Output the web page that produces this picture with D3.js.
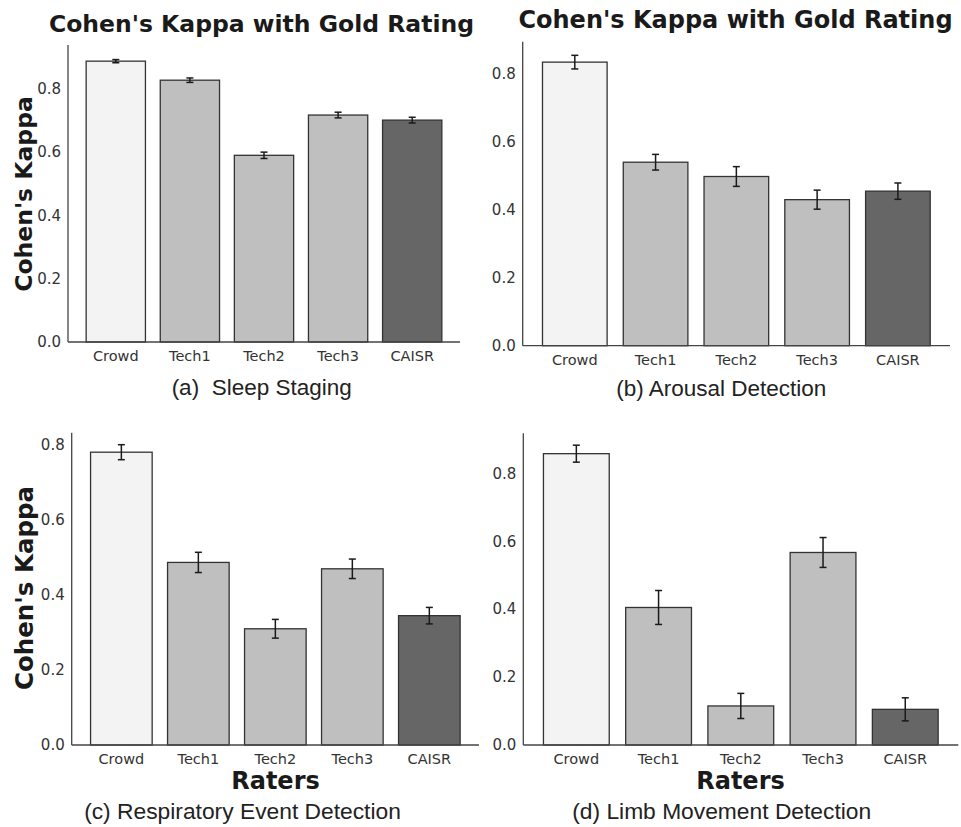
<!DOCTYPE html>
<html>
<head>
<meta charset="utf-8">
<script src="https://cdn.jsdelivr.net/npm/d3@7"></script>
<style>
  html, body { margin: 0; padding: 0; background: #fff; }
  svg { display: block; }
</style>
</head>
<body>
<svg id="chart" width="961" height="827"></svg>
<script>
// Raters compared against the gold rating
const raters = ["Crowd", "Tech1", "Tech2", "Tech3", "CAISR"];
const barFills = ["#f3f3f3", "#bfbfbf", "#bfbfbf", "#bfbfbf", "#666666"];

// Cohen's kappa per task (mean) and half-width of the error bar
const sleepKappa = [0.886, 0.826, 0.589, 0.716, 0.700];
const sleepErr = [0.005, 0.007, 0.010, 0.009, 0.009];

const arousalKappa = [0.833, 0.539, 0.497, 0.429, 0.454];
const arousalErr = [0.020, 0.023, 0.029, 0.028, 0.024];

const respKappa = [0.781, 0.487, 0.310, 0.470, 0.345];
const respErr = [0.020, 0.027, 0.025, 0.026, 0.022];

const limbKappa = [0.858, 0.405, 0.115, 0.567, 0.105];
const limbErr = [0.025, 0.050, 0.037, 0.044, 0.034];

// Upper limit of each value axis and its tick values
const axisMax = [0.937, 0.893, 0.833, 0.918];
const yTicks = [0.0, 0.2, 0.4, 0.6, 0.8];

const captions = [
  "(a)\u00a0\u00a0Sleep Staging",
  "(b) Arousal Detection",
  "(c) Respiratory Event Detection",
  "(d) Limb Movement Detection"
];
const titleText = "Cohen's Kappa with Gold Rating";
const yLabelText = "Cohen's Kappa";
const xLabelText = "Raters";

// Plot-area frame for each panel
const panels = [
  { values: sleepKappa, errs: sleepErr, left: 68, right: 460, top: 45, bottom: 342,
    title: { x: 261.5, y: 31.5, size: 23.5 }, ylab: { x: 32, y: 194, size: 23.5 },
    caption: { x: 261.7, y: 395, size: 22.5 }, tickY: 360.5 },
  { values: arousalKappa, errs: arousalErr, left: 522.7, right: 950, top: 41.7, bottom: 345.7,
    title: { x: 735.5, y: 28.3, size: 24 }, ylab: null,
    caption: { x: 721.3, y: 395.5, size: 22.5 }, tickY: 364.5 },
  { values: respKappa, errs: respErr, left: 71.7, right: 479, top: 432.7, bottom: 745,
    title: null, ylab: { x: 33, y: 588, size: 24.5 },
    caption: { x: 242.5, y: 818.5, size: 22.8 }, tickY: 764.3,
    xlab: { x: 275.5, y: 788.5, size: 24 } },
  { values: limbKappa, errs: limbErr, left: 523.3, right: 958.3, top: 433.3, bottom: 745,
    title: null, ylab: null,
    caption: { x: 721.7, y: 818.5, size: 22.8 }, tickY: 764.3,
    xlab: { x: 740.5, y: 788.5, size: 24 } }
];

const svg = d3.select("#chart");
const tickFont = "'DejaVu Sans', sans-serif";
const boldFont = "'DejaVu Sans', sans-serif";
const captionFont = "'Liberation Sans', Arial, sans-serif";

panels.forEach((p, i) => {
  const g = svg.append("g");
  const n = raters.length;

  const x = d3.scaleLinear().domain([-0.645, n - 1 + 0.645]).range([p.left, p.right]);
  const y = d3.scaleLinear().domain([0, axisMax[i]]).range([p.bottom, p.top]);
  const barW = x(0.8) - x(0);

  const rows = raters.map((r, k) => ({ name: r, k, v: p.values[k], e: p.errs[k], fill: barFills[k] }));

  // bars
  g.selectAll("rect.bar").data(rows).join("rect")
    .attr("class", "bar")
    .attr("x", d => x(d.k) - barW / 2)
    .attr("y", d => y(d.v))
    .attr("width", barW)
    .attr("height", d => y(0) - y(d.v))
    .attr("fill", d => d.fill)
    .attr("stroke", "#333")
    .attr("stroke-width", 1.3);

  // error bars with caps
  const eb = g.selectAll("g.err").data(rows).join("g").attr("class", "err")
    .attr("stroke", "#1a1a1a").attr("stroke-width", 1.5);
  eb.append("line")
    .attr("x1", d => x(d.k)).attr("x2", d => x(d.k))
    .attr("y1", d => y(d.v - d.e)).attr("y2", d => y(d.v + d.e));
  eb.append("line")
    .attr("x1", d => x(d.k) - 3.5).attr("x2", d => x(d.k) + 3.5)
    .attr("y1", d => y(d.v + d.e)).attr("y2", d => y(d.v + d.e));
  eb.append("line")
    .attr("x1", d => x(d.k) - 3.5).attr("x2", d => x(d.k) + 3.5)
    .attr("y1", d => y(d.v - d.e)).attr("y2", d => y(d.v - d.e));

  // left axis (spine + tick labels, no tick marks)
  const yAxis = d3.axisLeft(y).tickValues(yTicks).tickFormat(d3.format(".1f"))
    .tickSize(0).tickPadding(7);
  const ya = g.append("g").attr("transform", `translate(${p.left},0)`).call(yAxis);
  ya.select(".domain").attr("stroke", "#444").attr("stroke-width", 1.3)
    .attr("d", `M0,${p.bottom}V${p.top}`);
  ya.selectAll("text").attr("font-family", tickFont).attr("font-size", 15).attr("fill", "#333");

  // bottom spine
  g.append("line")
    .attr("x1", p.left).attr("x2", p.right)
    .attr("y1", p.bottom).attr("y2", p.bottom)
    .attr("stroke", "#444").attr("stroke-width", 1.3);

  // category labels
  g.selectAll("text.cat").data(rows).join("text")
    .attr("class", "cat")
    .attr("x", d => x(d.k)).attr("y", p.tickY)
    .attr("text-anchor", "middle")
    .attr("font-family", tickFont).attr("font-size", 14.5).attr("fill", "#333")
    .text(d => d.name);

  if (p.title) {
    g.append("text")
      .attr("x", p.title.x).attr("y", p.title.y)
      .attr("text-anchor", "middle")
      .attr("font-family", boldFont).attr("font-weight", "bold")
      .attr("font-size", p.title.size).attr("fill", "#1a1a1a")
      .text(titleText);
  }
  if (p.ylab) {
    g.append("text")
      .attr("transform", `translate(${p.ylab.x},${p.ylab.y}) rotate(-90)`)
      .attr("text-anchor", "middle")
      .attr("font-family", boldFont).attr("font-weight", "bold")
      .attr("font-size", p.ylab.size).attr("fill", "#1a1a1a")
      .text(yLabelText);
  }
  if (p.xlab) {
    g.append("text")
      .attr("x", p.xlab.x).attr("y", p.xlab.y)
      .attr("text-anchor", "middle")
      .attr("font-family", boldFont).attr("font-weight", "bold")
      .attr("font-size", p.xlab.size).attr("fill", "#1a1a1a")
      .text(xLabelText);
  }
  g.append("text")
    .attr("x", p.caption.x).attr("y", p.caption.y)
    .attr("text-anchor", "middle")
    .attr("font-family", captionFont)
    .attr("font-size", p.caption.size).attr("fill", "#222")
    .text(captions[i]);
});
</script>
</body>
</html>
